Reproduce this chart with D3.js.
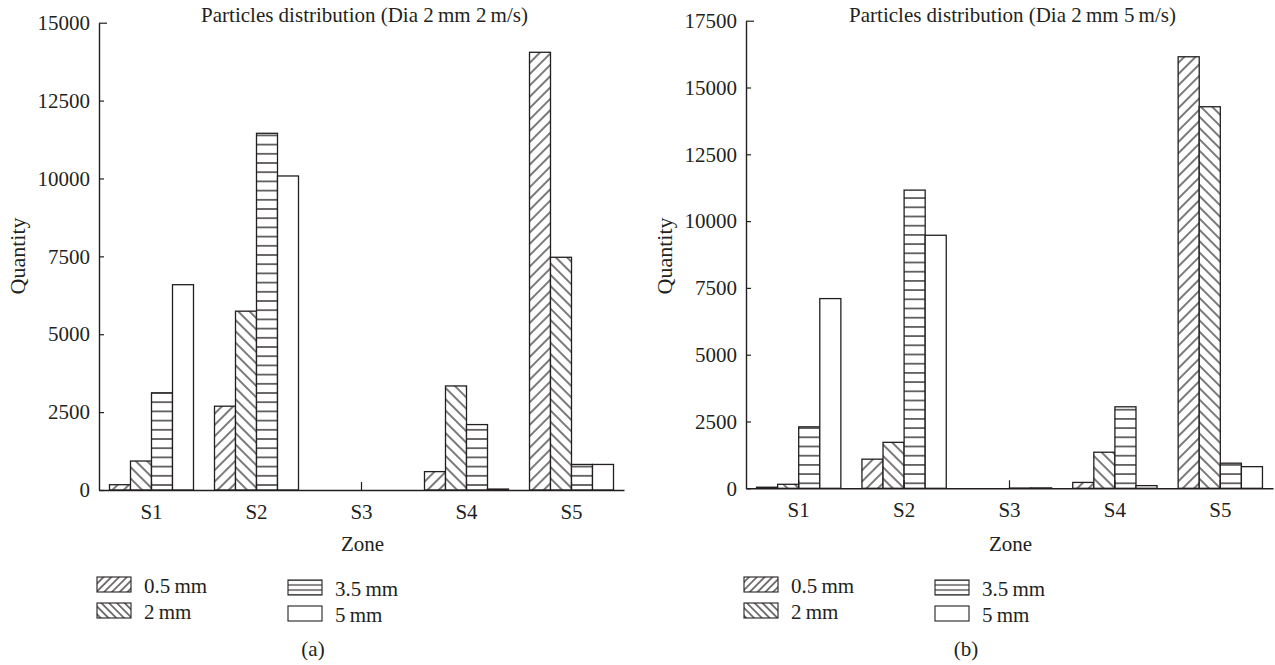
<!DOCTYPE html>
<html>
<head>
<meta charset="utf-8">
<script src="https://cdn.jsdelivr.net/npm/d3@7"></script>
<style>
  body { margin: 0; background: #fff; }
  text { font-family: "Liberation Serif", "Times New Roman", serif; fill: #231f20; }
</style>
</head>
<body>
<div id="chart"></div>
<script>
const zones = ["S1", "S2", "S3", "S4", "S5"];
const sizes = ["0.5 mm", "2 mm", "3.5 mm", "5 mm"];

// (a) Dia 2 mm, 2 m/s
const a05 = [170, 2690, 0, 590, 14050];
const a2 = [930, 5740, 0, 3340, 7470];
const a35 = [3120, 11450, 0, 2100, 820];
const a5 = [6590, 10080, 0, 30, 820];
const ticksA = [0, 2500, 5000, 7500, 10000, 12500, 15000];

// (b) Dia 2 mm, 5 m/s
const b05 = [40, 1090, 0, 220, 16150];
const b2 = [150, 1720, 0, 1350, 14280];
const b35 = [2300, 11160, 10, 3050, 940];
const b5 = [7100, 9470, 15, 100, 810];
const ticksB = [0, 2500, 5000, 7500, 10000, 12500, 15000, 17500];

const width = 1275;
const height = 665;
const ink = "#231f20";
const fontSize = 21;
const fillKeys = ["fwd", "back", "horiz", "none"];

const svg = d3.select("#chart")
  .append("svg")
  .attr("width", width)
  .attr("height", height);

const defs = svg.append("defs");

function makePatterns(id, diag, hstep, hOriginY) {
  [["fwd", -45], ["back", 45]].forEach(([name, angle]) => {
    const p = defs.append("pattern")
      .attr("id", name + "-" + id)
      .attr("patternUnits", "userSpaceOnUse")
      .attr("width", diag)
      .attr("height", diag)
      .attr("patternTransform", `rotate(${angle})`);
    p.append("rect").attr("width", diag).attr("height", diag).attr("fill", "#fff");
    p.append("line")
      .attr("x1", 0).attr("x2", diag)
      .attr("y1", diag / 2).attr("y2", diag / 2)
      .attr("stroke", ink).attr("stroke-width", 1.2);
  });
  const h = defs.append("pattern")
    .attr("id", "horiz-" + id)
    .attr("patternUnits", "userSpaceOnUse")
    .attr("x", 0)
    .attr("y", hOriginY)
    .attr("width", 20)
    .attr("height", hstep);
  h.append("rect").attr("width", 20).attr("height", hstep).attr("fill", "#fff");
  h.append("line")
    .attr("x1", 0).attr("x2", 20)
    .attr("y1", hstep / 2).attr("y2", hstep / 2)
    .attr("stroke", ink).attr("stroke-width", 1.3);
}

function fillFor(key, id) {
  return key === "none" ? "#fff" : `url(#${key}-${id})`;
}

function drawChart(cfg) {
  const { id, series, ticks, x0, x1, yTop, y0, title, caption, captionX } = cfg;
  const g = svg.append("g");

  // bars: horizontal stripes anchored at the baseline
  makePatterns(id, 8, 9.2, y0 - 5 - 4.6);

  const x = d3.scaleBand().domain(zones).range([x0, x1]).padding(0);
  const xSub = d3.scaleBand().domain(sizes).range([0, x.bandwidth()])
    .paddingInner(0).paddingOuter(0.5);
  const y = d3.scaleLinear().domain([0, d3.max(ticks)]).range([y0, yTop]);

  const rows = zones.map((z, i) => ({
    zone: z,
    values: sizes.map((s, j) => ({ size: s, key: fillKeys[j], value: series[j][i] }))
  }));

  g.selectAll("g.zone")
    .data(rows)
    .enter()
    .append("g")
    .attr("class", "zone")
    .attr("transform", d => `translate(${x(d.zone)},0)`)
    .selectAll("rect")
    .data(d => d.values)
    .enter()
    .append("rect")
    .attr("x", d => xSub(d.size))
    .attr("y", d => y(d.value))
    .attr("width", xSub.bandwidth())
    .attr("height", d => y0 - y(d.value))
    .attr("fill", d => fillFor(d.key, id))
    .attr("stroke", ink)
    .attr("stroke-width", 1.3);

  // y axis
  const yAxis = g.append("g")
    .attr("transform", `translate(${x0},0)`)
    .call(d3.axisLeft(y).tickValues(ticks).tickSizeInner(-5).tickSizeOuter(0).tickPadding(9)
      .tickFormat(d3.format("d")));
  yAxis.select(".domain").attr("stroke", ink).attr("stroke-width", 1.4);
  yAxis.selectAll(".tick line").attr("stroke", ink).attr("stroke-width", 1.2);
  yAxis.selectAll(".tick").filter(d => d === d3.max(ticks)).select("line").attr("x2", 8);
  yAxis.selectAll("text")
    .attr("font-size", fontSize)
    .attr("font-family", "Liberation Serif")
    .attr("fill", ink);

  // x axis
  const xAxis = g.append("g")
    .attr("transform", `translate(0,${y0})`)
    .call(d3.axisBottom(x).tickSizeInner(-8).tickSizeOuter(0).tickPadding(14));
  xAxis.select(".domain").attr("stroke", ink).attr("stroke-width", 1.4);
  xAxis.selectAll(".tick line").attr("stroke", ink).attr("stroke-width", 1.2);
  xAxis.selectAll("text")
    .attr("font-size", fontSize)
    .attr("font-family", "Liberation Serif")
    .attr("fill", ink);

  const cx = (x0 + x1) / 2;

  g.append("text")
    .attr("x", cx + 3)
    .attr("y", 22)
    .attr("text-anchor", "middle")
    .attr("font-size", fontSize)
    .text(title);

  g.append("text")
    .attr("transform", `translate(${x0 - 82},${256}) rotate(-90)`)
    .attr("text-anchor", "middle")
    .attr("dy", "0.35em")
    .attr("font-size", 22)
    .text("Quantity");

  g.append("text")
    .attr("x", cx + 1)
    .attr("y", 551)
    .attr("text-anchor", "middle")
    .attr("font-size", fontSize)
    .text("Zone");

  // legend
  const legendId = id + "L";
  const legendItems = [
    { col: 0, top: 577 },
    { col: 0, top: 603 },
    { col: 1, top: 580 },
    { col: 1, top: 606 }
  ];
  makePatterns(legendId, 5.5, 5, 0);
  legendItems.forEach((it, j) => {
    const lx = it.col === 0 ? x0 - 2 : x0 + 189;
    const key = fillKeys[j];
    let fill = fillFor(key, legendId);
    if (key === "horiz") {
      const p = defs.append("pattern")
        .attr("id", `horiz-${legendId}-${j}`)
        .attr("patternUnits", "userSpaceOnUse")
        .attr("x", 0).attr("y", it.top + 2.5)
        .attr("width", 20).attr("height", 5);
      p.append("rect").attr("width", 20).attr("height", 5).attr("fill", "#fff");
      p.append("line").attr("x1", 0).attr("x2", 20).attr("y1", 2.5).attr("y2", 2.5)
        .attr("stroke", ink).attr("stroke-width", 1.1);
      fill = `url(#horiz-${legendId}-${j})`;
    }
    g.append("rect")
      .attr("x", lx)
      .attr("y", it.top)
      .attr("width", 34)
      .attr("height", 15)
      .attr("fill", fill)
      .attr("stroke", ink)
      .attr("stroke-width", 1.1);
    g.append("text")
      .attr("x", lx + 47)
      .attr("y", it.top + 15.5)
      .attr("font-size", fontSize)
      .text(sizes[j].replace(" ", "\u2009"));
  });

  g.append("text")
    .attr("x", captionX)
    .attr("y", 656)
    .attr("text-anchor", "middle")
    .attr("font-size", fontSize)
    .text(caption);
}

drawChart({
  id: "a",
  series: [a05, a2, a35, a5],
  ticks: ticksA,
  x0: 99, x1: 624, yTop: 22.7, y0: 490,
  title: "Particles distribution (Dia 2\u2009mm 2\u2009m/s)",
  caption: "(a)",
  captionX: 313
});

drawChart({
  id: "b",
  series: [b05, b2, b35, b5],
  ticks: ticksB,
  x0: 746, x1: 1273, yTop: 20.7, y0: 488.3,
  title: "Particles distribution (Dia 2\u2009mm 5\u2009m/s)",
  caption: "(b)",
  captionX: 966
});
</script>
</body>
</html>
